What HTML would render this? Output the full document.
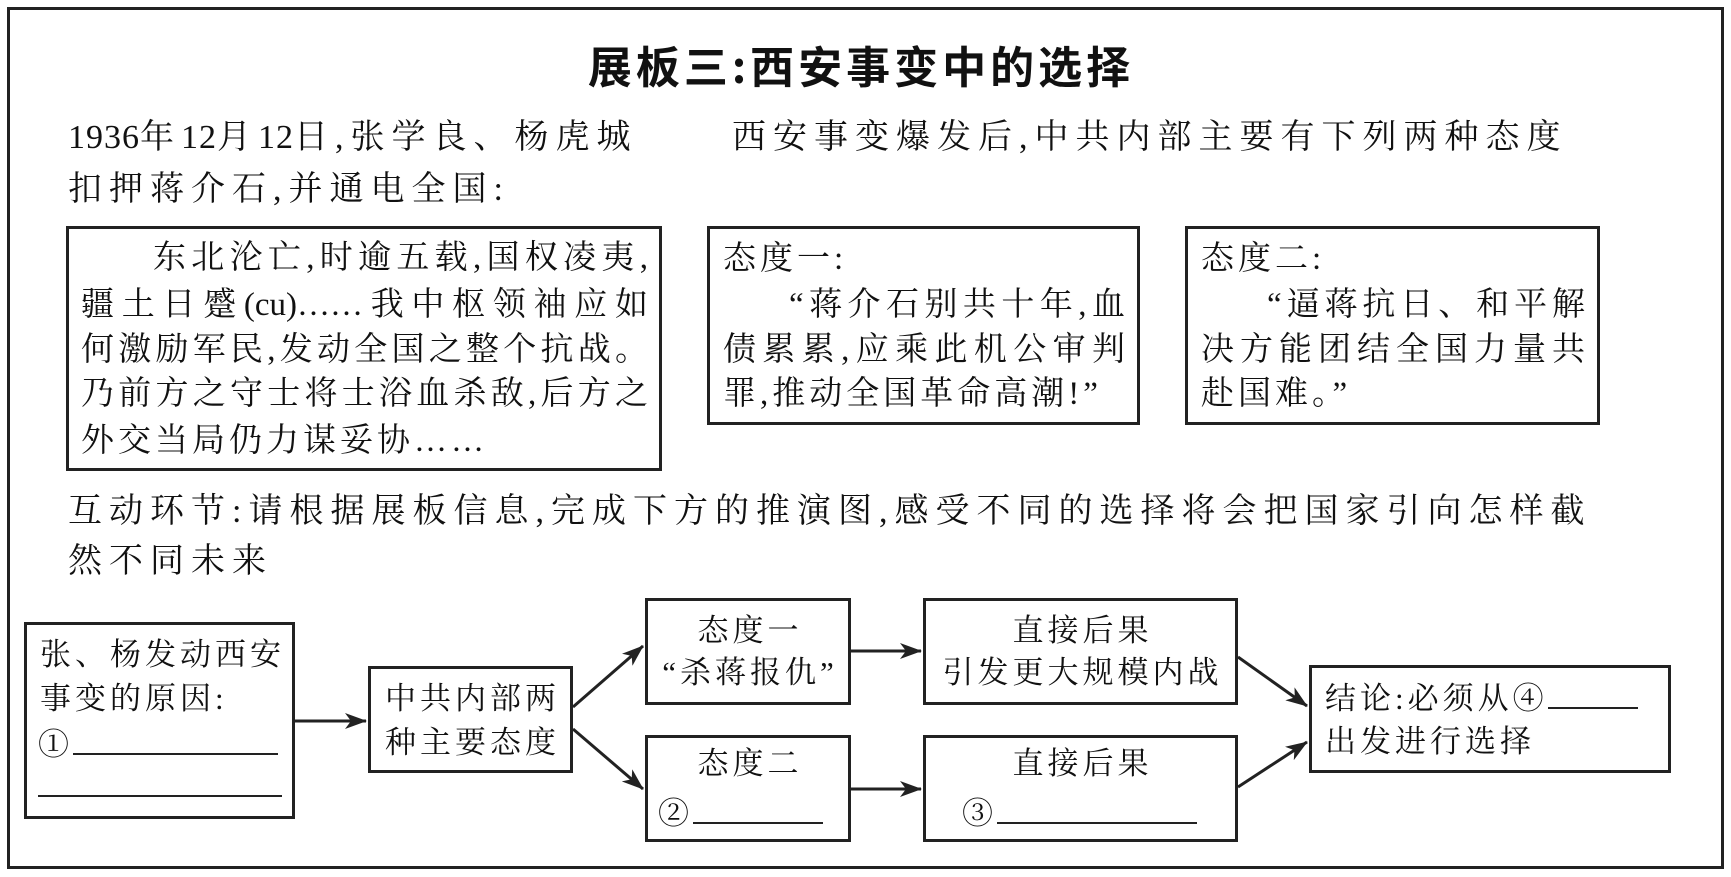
<!DOCTYPE html>
<html><head><meta charset="utf-8"><style>
body{margin:0;width:1731px;height:877px;background:#fff;position:relative;overflow:hidden;font-family:"Liberation Serif","Noto Serif CJK SC",serif;color:#111}
.b{position:absolute;border:3px solid #222;box-sizing:border-box;background:#fff}
.t{position:absolute;white-space:nowrap;font-size:34px;line-height:46px;letter-spacing:7px}
.d{letter-spacing:1px}
.j{position:absolute;font-size:33px;line-height:45px;text-align:justify;text-align-last:justify;white-space:nowrap}
.f{position:absolute;font-size:31px;line-height:44px;white-space:nowrap;letter-spacing:4px}
.c{text-align:center;text-indent:4px}
.u{display:inline-block;border-bottom:2px solid #222;height:30px;vertical-align:baseline}
</style></head><body>
<div class="b" style="left:7px;top:7px;width:1717px;height:862px;border-width:3px"></div>
<div class="t" style="left:0;width:1722px;text-align:center;top:36px;font-size:44px;line-height:56px;font-weight:bold;letter-spacing:4px;font-family:'Noto Sans CJK SC',sans-serif">展板三:西安事变中的选择</div>
<div class="t" style="left:68px;top:115px"><span class="d">1936</span>年<span class="d">12</span>月<span class="d">12</span>日,张学良、杨虎城</div>
<div class="t" style="left:68px;top:167px">扣押蒋介石,并通电全国:</div>
<div class="t" style="left:732px;top:115px">西安事变爆发后,中共内部主要有下列两种态度</div>

<div class="b" style="left:66px;top:226px;width:596px;height:245px"></div>
<div class="j" style="left:81px;width:567px;top:236px;padding-left:72px;box-sizing:border-box">东北沦亡,时逾五载,国权凌夷,</div>
<div class="j" style="left:81px;width:567px;top:283px">疆土日蹙(cu)……我中枢领袖应如</div>
<div class="j" style="left:81px;width:567px;top:328px">何激励军民,发动全国之整个抗战。</div>
<div class="j" style="left:81px;width:567px;top:372px">乃前方之守士将士浴血杀敌,后方之</div>
<div class="t" style="left:81px;top:419px;font-size:33px;line-height:45px;letter-spacing:4px">外交当局仍力谋妥协……</div>

<div class="b" style="left:707px;top:226px;width:433px;height:199px"></div>
<div class="t" style="left:723px;top:236px;font-size:33px;letter-spacing:4px">态度一:</div>
<div class="j" style="left:723px;width:402px;top:283px;padding-left:66px;box-sizing:border-box">“蒋介石别共十年,血</div>
<div class="j" style="left:723px;width:402px;top:328px">债累累,应乘此机公审判</div>
<div class="t" style="left:723px;top:372px;font-size:33px;line-height:45px;letter-spacing:4px">罪,推动全国革命高潮!”</div>

<div class="b" style="left:1185px;top:226px;width:415px;height:199px"></div>
<div class="t" style="left:1201px;top:236px;font-size:33px;letter-spacing:4px">态度二:</div>
<div class="j" style="left:1201px;width:384px;top:283px;padding-left:66px;box-sizing:border-box">“逼蒋抗日、和平解</div>
<div class="j" style="left:1201px;width:384px;top:328px">决方能团结全国力量共</div>
<div class="t" style="left:1201px;top:372px;font-size:33px;line-height:45px;letter-spacing:4px">赴国难。”</div>

<div class="t" style="left:68px;top:489px">互动环节:请根据展板信息,完成下方的推演图,感受不同的选择将会把国家引向怎样截</div>
<div class="t" style="left:68px;top:539px">然不同未来</div>

<div class="b" style="left:24px;top:622px;width:271px;height:197px"></div>
<div class="f" style="left:40px;top:633px">张、杨发动西安</div>
<div class="f" style="left:40px;top:677px">事变的原因:</div>
<div class="f" style="left:38px;top:723px">①<span class="u" style="width:205px"></span></div>
<div style="position:absolute;left:38px;top:795px;width:244px;border-top:2px solid #222"></div>

<div class="b" style="left:368px;top:666px;width:205px;height:107px"></div>
<div class="f c" style="left:368px;width:205px;top:677px">中共内部两</div>
<div class="f c" style="left:368px;width:205px;top:721px">种主要态度</div>

<div class="b" style="left:645px;top:598px;width:206px;height:107px"></div>
<div class="f c" style="left:645px;width:206px;top:609px">态度一</div>
<div class="f c" style="left:645px;width:206px;top:651px">“杀蒋报仇”</div>

<div class="b" style="left:645px;top:735px;width:206px;height:107px"></div>
<div class="f c" style="left:645px;width:206px;top:742px">态度二</div>
<div class="f" style="left:658px;top:792px">②<span class="u" style="width:130px"></span></div>

<div class="b" style="left:923px;top:598px;width:315px;height:107px"></div>
<div class="f c" style="left:923px;width:315px;top:609px">直接后果</div>
<div class="f c" style="left:923px;width:315px;top:651px">引发更大规模内战</div>

<div class="b" style="left:923px;top:735px;width:315px;height:107px"></div>
<div class="f c" style="left:923px;width:315px;top:742px">直接后果</div>
<div class="f" style="left:962px;top:792px">③<span class="u" style="width:200px"></span></div>

<div class="b" style="left:1309px;top:665px;width:362px;height:108px"></div>
<div class="f" style="left:1325px;top:677px">结论:必须从④<span class="u" style="width:90px"></span></div>
<div class="f" style="left:1325px;top:720px">出发进行选择</div>

<svg style="position:absolute;left:0;top:0" width="1731" height="877">
<defs><marker id="m" markerWidth="22" markerHeight="16" refX="21" refY="8" orient="auto" markerUnits="userSpaceOnUse"><path d="M0,0 L22,8 L0,16 L6,8 Z" fill="#222"/></marker></defs>
<g stroke="#222" stroke-width="3" fill="none">
<line x1="295" y1="721" x2="366" y2="721" marker-end="url(#m)"/>
<line x1="573" y1="707" x2="643" y2="646" marker-end="url(#m)"/>
<line x1="573" y1="729" x2="643" y2="789" marker-end="url(#m)"/>
<line x1="851" y1="651" x2="921" y2="651" marker-end="url(#m)"/>
<line x1="851" y1="789" x2="921" y2="789" marker-end="url(#m)"/>
<line x1="1238" y1="657" x2="1307" y2="706" marker-end="url(#m)"/>
<line x1="1238" y1="787" x2="1307" y2="742" marker-end="url(#m)"/>
</g></svg>
</body></html>
